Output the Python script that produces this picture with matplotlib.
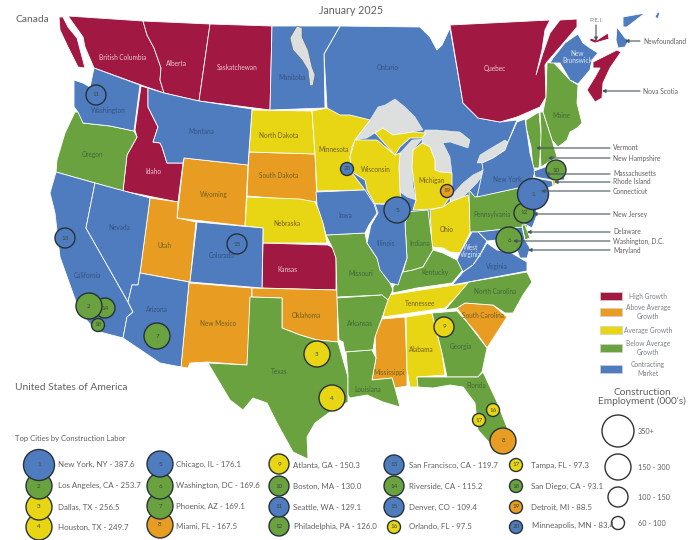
import matplotlib.pyplot as plt
from matplotlib.patches import Polygon, Circle, Rectangle

plt.rcParams['font.family'] = ['Lato', 'DejaVu Sans']

HIGH = '#A11842'
ABOVE = '#E89D22'
AVG = '#E8D615'
BELOW = '#6AA23F'
CONTRACT = '#4F7CBE'
LAKE = '#DDDFDF'
TXT = '#606060'
LEADER = '#44565A'

# growth group of each region
high_growth = ['British Columbia', 'Vancouver Island', 'Alberta', 'Saskatchewan', 'Quebec', 'Nova Scotia', 'P.E.I.', 'Idaho', 'Kansas']
above_avg = ['Wyoming', 'South Dakota', 'Utah', 'New Mexico', 'Oklahoma', 'Mississippi', 'South Carolina']
average = ['North Dakota', 'Minnesota', 'Wisconsin', 'Michigan', 'Michigan UP', 'Nebraska', 'Ohio', 'Tennessee', 'Alabama', 'Rhode Island']
below_avg = ['Oregon', 'Texas', 'Missouri', 'Arkansas', 'Louisiana', 'Indiana', 'Kentucky', 'Pennsylvania', 'North Carolina', 'Georgia', 'Florida', 'Maine', 'New Hampshire', 'Vermont', 'Delaware']
contracting = ['Ontario', 'Manitoba', 'New Brunswick', 'Newfoundland', 'Labrador', 'Labrador 2', 'Washington', 'Montana', 'California', 'Nevada', 'Colorado', 'Arizona', 'Iowa', 'Illinois', 'New York', 'Massachusetts', 'Connecticut', 'New Jersey', 'Maryland', 'West Virginia', 'Virginia']

# map outlines in pixels
shapes = {
    'British Columbia': [(68,16),(143,21),(147,35),(154,48),(161,68),(160,80),(164,93),(141,85),(94,68),(85,47),(83,37),(78,30)],
    'Vancouver Island': [(59,17),(63,17),(68,27),(77,38),(85,68),(78,67),(68,47),(60,30)],
    'Alberta': [(143,21),(210,24),(199,101),(164,93),(160,80),(161,68),(154,48),(147,35)],
    'Saskatchewan': [(210,24),(272,26),(270,110),(199,101)],
    'Manitoba': [(272,26),(340,26),(324,54),(325,108),(270,110)],
    'Ontario': [(340,26),(420,27),(430,37),(437,50),(442,45),(450,28),(463,103),(478,118),(500,122),(517,120),(508,142),(490,170),(480,200),(440,230),(340,200),(327,108),(324,54)],
    'Quebec': [(450,25),(550,20),(545,30),(542,50),(536,75),(543,53),(550,33),(560,20),(577,19),(577,27),(560,47),(547,62),(545,65),(546,97),(540,107),(517,117),(500,122),(478,118),(463,103)],
    'New Brunswick': [(553,58),(565,43),(572,38),(578,34),(583,43),(590,48),(598,53),(592,60),(590,70),(578,84),(570,80),(560,63),(550,63)],
    'Nova Scotia': [(593,62),(617,50),(621,52),(610,68),(603,83),(602,98),(595,102),(587,90),(595,77),(600,68),(593,68)],
    'P.E.I.': [(590,38),(597,40),(608,33),(609,39),(595,43),(590,41)],
    'Newfoundland': [(617,27),(625,38),(629,40),(625,47),(618,48),(616,40)],
    'Labrador': [(623,17),(645,13),(627,27),(623,27)],
    'Labrador 2': [(657,13),(660,12),(658,19),(655,17)],
    'Washington': [(94,68),(140,85),(134,131),(110,126),(83,123),(78,112),(74,107),(74,80),(83,83),(90,87)],
    'Oregon': [(75,112),(82,112),(83,123),(110,126),(134,131),(137,137),(127,155),(123,191),(56,172),(57,160),(65,133)],
    'Idaho': [(141,86),(148,88),(148,107),(158,127),(153,142),(160,143),(162,147),(167,163),(183,163),(178,202),(123,191),(127,155),(137,137),(135,130)],
    'Montana': [(148,88),(164,93),(199,101),(252,109),(248,165),(184,158),(183,163),(167,163),(162,147),(160,143),(153,142),(158,127),(148,107)],
    'North Dakota': [(252,110),(312,111),(315,154),(249,152)],
    'South Dakota': [(249,152),(315,154),(317,202),(300,200),(247,196)],
    'Minnesota': [(312,111),(327,108),(340,115),(350,115),(370,120),(355,140),(352,147),(350,157),(352,173),(365,190),(317,191),(315,154)],
    'Wisconsin': [(355,140),(377,140),(395,155),(400,153),(399,167),(400,192),(402,203),(375,204),(367,190),(365,180),(352,172),(350,157)],
    'Michigan': [(413,150),(422,143),(430,147),(435,160),(435,170),(440,172),(452,173),(452,187),(450,197),(443,207),(432,209),(413,210),(416,200),(412,167)],
    'Michigan UP': [(375,133),(383,128),(393,135),(413,132),(426,133),(422,138),(410,138),(400,147),(395,155)],
    'Wyoming': [(184,158),(248,165),(245,226),(177,218)],
    'Nebraska': [(247,197),(300,199),(315,202),(322,217),(327,243),(263,243),(263,228),(245,226)],
    'Iowa': [(316,192),(365,190),(374,204),(377,213),(369,225),(365,233),(326,235),(323,223),(317,205)],
    'Illinois': [(375,204),(407,205),(410,212),(405,223),(407,258),(403,270),(398,285),(390,283),(380,270),(377,258),(367,243),(371,225),(378,213)],
    'Indiana': [(405,212),(428,210),(433,250),(423,267),(413,270),(403,272),(407,258),(405,223)],
    'Ohio': [(430,210),(443,207),(450,202),(468,195),(472,218),(470,233),(460,253),(450,252),(443,248),(432,247)],
    'Nevada': [(95,183),(150,198),(140,273),(138,285),(132,285),(128,302),(86,228)],
    'California': [(56,172),(95,183),(86,228),(128,302),(133,312),(127,317),(123,338),(100,332),(93,327),(80,313),(60,257),(55,213),(50,193)],
    'Utah': [(150,198),(178,202),(177,218),(196,222),(190,282),(140,273)],
    'Colorado': [(197,222),(263,228),(262,288),(190,282)],
    'Kansas': [(263,243),(328,245),(333,248),(336,258),(336,290),(262,288)],
    'Arizona': [(140,273),(189,282),(181,367),(160,363),(123,338),(127,317),(133,312),(128,302),(132,285),(138,285)],
    'New Mexico': [(189,283),(252,288),(247,365),(208,362),(190,363),(188,368),(181,367)],
    'Oklahoma': [(252,288),(337,290),(338,342),(317,340),(300,335),(282,328),(282,298),(252,297)],
    'Texas': [(250,297),(282,298),(282,328),(300,335),(317,340),(338,342),(348,377),(348,402),(330,412),(315,423),(307,437),(308,459),(293,452),(277,423),(267,403),(253,398),(243,410),(230,400),(208,363),(247,365)],
    'Missouri': [(326,235),(365,233),(367,243),(377,258),(381,270),(390,283),(393,290),(388,300),(383,303),(382,295),(337,297),(336,258),(332,247)],
    'Arkansas': [(337,298),(382,295),(388,300),(383,315),(375,337),(373,350),(345,352),(343,342),(339,340)],
    'Louisiana': [(346,352),(372,350),(376,358),(372,380),(392,378),(395,388),(400,407),(383,402),(367,395),(350,398),(348,395),(348,375)],
    'Mississippi': [(382,319),(405,317),(407,370),(407,386),(395,388),(392,378),(372,380),(376,358),(375,335)],
    'Alabama': [(406,317),(432,313),(442,353),(445,375),(417,377),(418,387),(410,387),(407,370)],
    'Georgia': [(432,313),(457,311),(467,322),(487,348),(482,372),(478,377),(447,377),(442,353)],
    'Florida': [(417,377),(445,377),(478,377),(483,372),(497,402),(508,430),(515,450),(497,452),(487,440),(478,430),(475,403),(463,387),(450,385),(433,388),(418,387)],
    'South Carolina': [(457,308),(465,303),(493,305),(507,317),(487,348),(478,335),(467,322)],
    'North Carolina': [(452,285),(527,272),(532,282),(523,295),(513,313),(505,313),(493,305),(465,303),(457,308),(445,310),(468,283)],
    'Tennessee': [(388,295),(468,283),(463,290),(445,308),(383,317)],
    'Kentucky': [(393,287),(403,272),(413,270),(423,267),(433,250),(443,253),(457,260),(463,270),(452,283),(417,288),(393,293)],
    'West Virginia': [(472,232),(478,232),(483,237),(487,241),(480,255),(473,265),(463,272),(457,260),(460,253)],
    'Virginia': [(452,285),(463,272),(473,265),(480,255),(487,243),(497,250),(510,252),(520,258),(527,262),(527,271)],
    'Maryland': [(478,232),(522,227),(525,240),(530,248),(527,258),(520,258),(515,245),(505,240),(497,240),(487,241)],
    'Delaware': [(522,225),(525,225),(530,238),(525,240)],
    'New Jersey': [(519,190),(535,200),(537,215),(532,228),(523,223),(527,212),(520,205)],
    'Pennsylvania': [(469,190),(475,197),(518,188),(523,203),(533,213),(527,227),(478,232),(470,232)],
    'New York': [(477,197),(483,170),(482,163),(493,158),(505,150),(508,142),(517,122),(525,119),(530,153),(535,172),(533,178),(540,190),(530,195),(518,188)],
    'Vermont': [(526,120),(539,112),(541,135),(540,157),(539,168),(533,168),(531,147),(526,127)],
    'New Hampshire': [(540,112),(543,112),(552,140),(557,157),(541,167),(540,145),(541,130)],
    'Maine': [(547,63),(553,62),(570,80),(578,85),(577,103),(582,123),(577,128),(570,132),(567,140),(558,147),(552,140),(543,112),(546,97)],
    'Massachusetts': [(534,171),(545,167),(560,167),(565,180),(552,180),(535,177)],
    'Connecticut': [(535,178),(552,181),(553,186),(537,192),(533,188)],
    'Rhode Island': [(552,180),(555,180),(555,185),(553,186)],
}

lake_winnipeg = [(290,38),(297,26),(302,28),(302,37),(308,50),(312,67),(315,75),(313,85),(310,86),(308,70),(302,60),(293,50)]
lakes = [
    [(355,140),(363,128),(370,120),(378,107),(385,105),(395,99),(405,107),(415,117),(423,130),(413,132),(393,135),(383,128),(375,133),(367,138)],
    [(400,153),(412,140),(422,139),(413,150),(412,167),(413,187),(416,200),(407,197),(400,192),(399,167)],
    [(425,130),(437,130),(460,132),(470,140),(468,148),(450,142),(443,143),(450,157),(452,173),(440,172),(435,170),(435,160),(430,147),(422,143),(422,139)],
    [(483,170),(485,172),(477,183),(463,197),(450,202),(450,197),(463,183),(473,175)],
    [(477,163),(480,155),(493,147),(505,140),(508,142),(505,150),(493,158),(482,163)],
]

cities = ['New York, NY', 'Los Angeles, CA', 'Dallas, TX', 'Houston, TX', 'Chicago, IL', 'Washington, DC', 'Phoenix, AZ', 'Miami, FL', 'Atlanta, GA', 'Boston, MA', 'Seattle, WA', 'Philadelphia, PA', 'San Francisco, CA', 'Riverside, CA', 'Denver, CO', 'Orlando, FL', 'Tampa, FL', 'San Diego, CA', 'Detroit, MI', 'Minneapolis, MN']
city_vals = ['387.6', '253.7', '256.5', '249.7', '176.1', '169.6', '169.1', '167.5', '150.3', '130.0', '129.1', '126.0', '119.7', '115.2', '109.4', '97.5', '97.3', '93.1', '88.5', '83.4']
city_colors = [CONTRACT, BELOW, AVG, AVG, CONTRACT, BELOW, BELOW, ABOVE, AVG, BELOW, CONTRACT, BELOW, CONTRACT, BELOW, CONTRACT, AVG, AVG, BELOW, ABOVE, CONTRACT]
city_x = [533, 89, 317, 332, 397, 509, 157, 503, 444, 556, 96, 524, 65, 105, 237, 493, 479, 98, 447, 347]
city_y = [194, 306, 354, 398, 210, 240, 336, 441, 327, 170, 95, 213, 238, 308, 244, 410, 420, 325, 191, 169]
list_x = [39]*4 + [160]*4 + [279]*4 + [394]*4 + [516]*4
list_y = [465, 486, 507, 527, 464, 486, 506, 525, 464, 486, 507, 526, 465, 486, 507, 527, 465, 486, 507, 527]
text_x = [58]*4 + [176]*4 + [293]*3 + [294] + [409]*4 + [531]*3 + [532]
text_y = [464, 485, 507, 527, 464, 485, 506, 526, 465, 486, 507, 526, 465, 486, 507, 526, 465, 486, 507, 525]

label_names = ['British Columbia', 'Alberta', 'Saskatchewan', 'Quebec', 'Idaho', 'Kansas', 'Manitoba', 'Ontario', 'New\nBrunswick', 'Maine', 'Washington', 'Montana', 'North Dakota', 'Minnesota', 'Oregon', 'South Dakota', 'Wyoming', 'Nebraska', 'Iowa', 'Nevada', 'Utah', 'Colorado', 'California', 'Arizona', 'New Mexico', 'Oklahoma', 'Texas', 'Wisconsin', 'Michigan', 'New York', 'Pennsylvania', 'Ohio', 'Indiana', 'Illinois', 'West\nVirginia', 'Virginia', 'Kentucky', 'Missouri', 'Arkansas', 'Tennessee', 'North Carolina', 'South Carolina', 'Georgia', 'Alabama', 'Mississippi', 'Louisiana', 'Florida']
label_x = [123, 176, 237, 495, 153, 287, 292, 388, 577, 561, 108, 201, 279, 334, 93, 279, 214, 287, 345, 119, 165, 222, 88, 157, 218, 306, 279, 376, 432, 507, 492, 447, 420, 386, 471, 497, 435, 361, 360, 420, 495, 483, 461, 421, 389, 368, 476]
label_y = [57, 63, 68, 68, 172, 270, 77, 68, 57, 116, 110, 131, 135, 150, 155, 176, 194, 223, 215, 227, 246, 255, 275, 309, 323, 315, 371, 169, 181, 180, 214, 230, 243, 243, 251, 266, 273, 273, 323, 303, 292, 315, 347, 349, 373, 389, 386]

callouts = ['Newfoundland', 'Nova Scotia', 'Vermont', 'New Hampshire', 'Massachusetts', 'Rhode Island', 'Connecticut', 'New Jersey', 'Delaware', 'Washington, D.C.', 'Maryland']
callout_y = [41, 91, 148, 158, 174, 182, 191, 214, 232, 241, 250]
callout_x0 = [640, 640, 610, 610, 610, 610, 610, 610, 610, 610, 610]
callout_x1 = [625, 602, 536, 548, 545, 554, 541, 533, 527, 513, 528]

legend_names = ['High Growth', 'Above Average\nGrowth', 'Average Growth', 'Below Average\nGrowth', 'Contracting\nMarket']
legend_colors = [HIGH, ABOVE, AVG, BELOW, CONTRACT]
legend_y = [296, 312, 330, 348, 369]

size_labels = ['350+', '150 - 300', '100 - 150', '60 - 100']
size_y = [431, 467, 497, 523]
size_r = [16, 13, 10, 6.5]


def city_radius(i):
    # bubble size goes by rank tier, same as the size key
    if i == 0:
        return 15.5
    if i < 8:
        return 13
    if i < 15:
        return 10
    return 6.5


fig, ax = plt.subplots(figsize=(6.99, 5.40), dpi=100)
ax.set_position([0, 0, 1, 1])
ax.set_xlim(0, 699)
ax.set_ylim(540, 0)
ax.axis('off')

for group, col in [(high_growth, HIGH), (above_avg, ABOVE), (average, AVG), (below_avg, BELOW), (contracting, CONTRACT)]:
    for name in group:
        z = 1 if name == 'Ontario' else 3
        ax.add_patch(Polygon(shapes[name], closed=True, fc=col, ec='white', lw=0.6, zorder=z))
for lake in lakes:
    ax.add_patch(Polygon(lake, closed=True, fc=LAKE, ec='white', lw=0.3, zorder=2))
# this one sits inside Manitoba so it has to go over it
ax.add_patch(Polygon(lake_winnipeg, closed=True, fc=LAKE, ec='#44565A', lw=0.3, zorder=3.5))

# state labels
for name, x, y in zip(label_names, label_x, label_y):
    if name in high_growth:
        c = '#EBC9D4'
    elif name in contracting:
        c = '#34547F'
    elif name in below_avg:
        c = '#43683A'
    else:
        c = '#6F6020'
    if name in ['New\nBrunswick', 'West\nVirginia']:
        c = '#DCE6F4'
    ax.text(x, y, name, color=c, fontsize=4.7, ha='center', va='center', zorder=4, linespacing=1.1)

# cities on the map and in the list
for i in range(19, -1, -1):
    r = city_radius(i)
    ax.add_patch(Circle((city_x[i], city_y[i]), r, fc=city_colors[i], ec='#26323A', lw=1.0, zorder=5 + (20 - i) * 0.01))
    ax.text(city_x[i], city_y[i], str(i + 1), color='#3D4A3A', fontsize=4.5, ha='center', va='center', zorder=6)
    ax.add_patch(Circle((list_x[i], list_y[i]), r, fc=city_colors[i], ec='#26323A', lw=1.0, zorder=5 + (20 - i) * 0.01))
    ax.text(list_x[i], list_y[i], str(i + 1), color='#3D4A3A', fontsize=4.5, ha='center', va='center', zorder=6)
    ax.text(text_x[i], text_y[i], cities[i] + ' - ' + city_vals[i], color=TXT, fontsize=5.7, ha='left', va='center')

# leaders on the right
for name, y, x0, x1 in zip(callouts, callout_y, callout_x0, callout_x1):
    ax.annotate('', xy=(x1, y), xytext=(x0, y), zorder=7,
                arrowprops=dict(arrowstyle='-|>', color=LEADER, lw=0.8, mutation_scale=5, shrinkA=0, shrinkB=0))
    ax.text(x0 + 3, y, name, color=TXT, fontsize=4.8, ha='left', va='center')
ax.annotate('', xy=(596, 41), xytext=(596, 25), zorder=7,
            arrowprops=dict(arrowstyle='-|>', color=LEADER, lw=0.8, mutation_scale=5, shrinkA=0, shrinkB=0))
ax.text(596, 21, 'P.E.I.', color='#8A8A8A', fontsize=4.5, ha='center', va='center')

ax.text(351, 11, 'January 2025', color=TXT, fontsize=7.7, ha='center', va='center')
ax.text(15, 20, 'Canada', color=TXT, fontsize=7.4, ha='left', va='center')
ax.text(15, 388, 'United States of America', color=TXT, fontsize=7.4, ha='left', va='center')
ax.text(15, 439, 'Top Cities by Construction Labor', color=TXT, fontsize=5.5, ha='left', va='center')

# growth key
for name, col, y in zip(legend_names, legend_colors, legend_y):
    ax.add_patch(Rectangle((600, y - 4), 22, 8, fc=col, ec='#D0D0D0', lw=0.5))
    ax.text(648, y, name, color='#7A8088', fontsize=4.8, ha='center', va='center', linespacing=1.3)

# size key
ax.text(642, 397, "Construction\nEmployment (000's)", color=TXT, fontsize=7.3, ha='center', va='center', linespacing=1.05)
for lab, y, r in zip(size_labels, size_y, size_r):
    ax.add_patch(Circle((618, y), r, fc='white', ec='#333333', lw=1.0))
    ax.text(638, y + 1, lab, color=TXT, fontsize=5.2, ha='left', va='center')

fig.savefig('out.png', dpi=100)
